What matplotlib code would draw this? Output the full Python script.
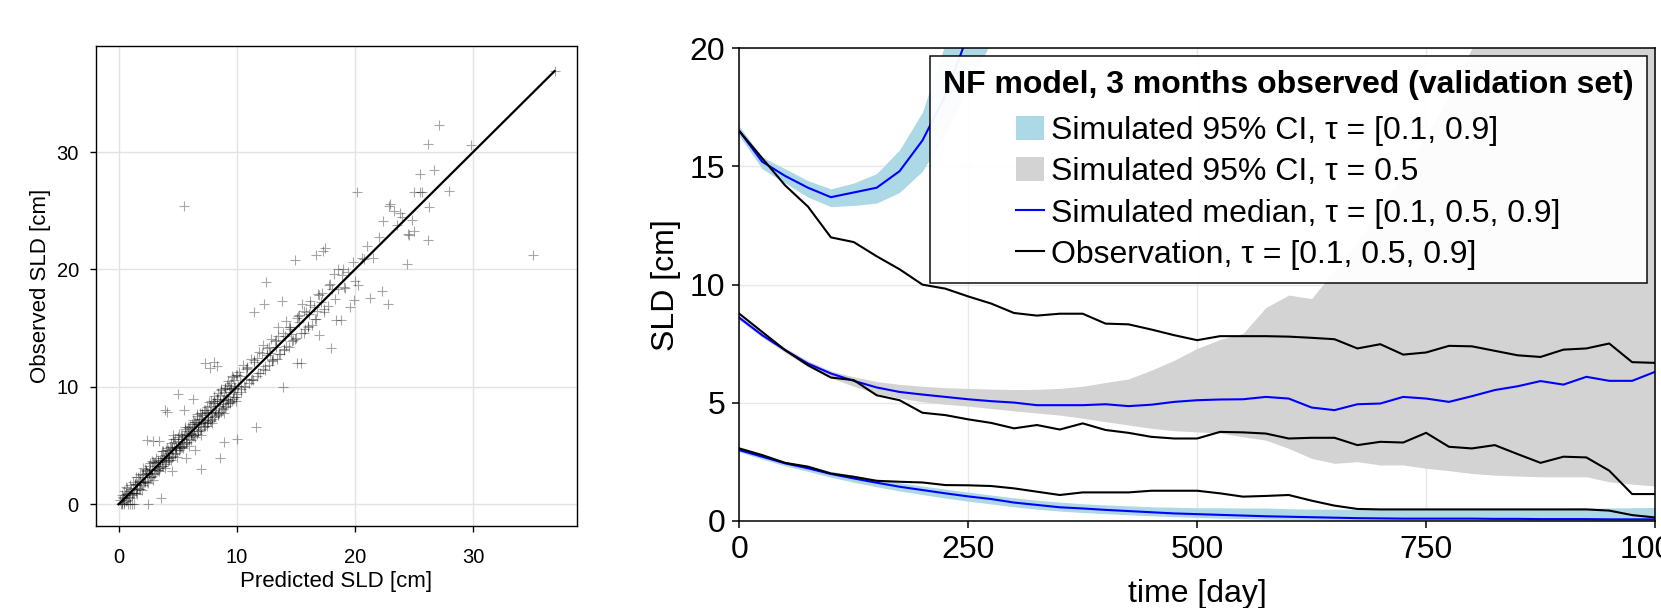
import matplotlib.pyplot as plt
from matplotlib.patches import Patch
from matplotlib.lines import Line2D

plt.rcParams['font.family'] = ['Liberation Sans', 'DejaVu Sans']

# ---- left panel: predicted vs observed SLD ----
core_pred = [0.1, 0.2, 0.3, 0.3, 0.4, 0.5, 0.5, 0.6, 0.7, 0.8, 0.8, 0.9, 1.0, 1.0, 1.1, 1.2, 1.3, 1.3, 1.4, 1.5,
             1.5, 1.6, 1.7, 1.8, 1.8, 1.9, 2.0, 2.1, 2.1, 2.2, 2.3, 2.4, 2.4, 2.5, 2.6, 2.7, 2.7, 2.8, 2.9, 3.0,
             3.0, 3.1, 3.2, 3.3, 3.3, 3.4, 3.5, 3.6, 3.6, 3.7, 3.8, 3.9, 3.9, 4.0, 4.1, 4.2, 4.2, 4.3, 4.4, 4.5,
             4.5, 4.6, 4.7, 4.8, 4.8, 4.9, 5.0, 5.1, 5.1, 5.2, 5.3, 5.4, 5.4, 5.5, 5.6, 5.7, 5.7, 5.8, 5.9, 6.0,
             6.0, 6.1, 6.2, 6.3, 6.3, 6.4, 6.5, 6.6, 6.6, 6.7, 6.8, 6.9, 6.9, 7.0, 7.1, 7.2, 7.2, 7.3, 7.4, 7.5,
             7.5, 7.6, 7.7, 7.8, 7.8, 7.9, 8.0, 8.1, 8.1, 8.2, 8.3, 8.4, 8.4, 8.5, 8.6, 8.7, 8.7, 8.8, 8.9, 9.0,
             9.0, 9.1, 9.2, 9.3, 9.3, 9.4, 9.5, 9.6, 9.6, 9.7, 9.8, 9.9, 9.9, 10.0,
             0.6, 1.1, 1.6, 2.2, 2.8, 3.4, 4.0, 4.6, 5.2, 5.8, 6.4, 7.0, 7.6, 8.2, 8.8, 9.4, 4.3, 5.0, 6.1, 7.3,
             8.5, 9.7, 2.6, 3.7, 4.9, 6.7, 7.9, 9.1,
             4.1, 3.9, 7.3, 8.1, 7.7, 8.3, 5.7, 7.0, 8.6, 10.0, 6.5, 4.5, 5.5, 6.3, 8.9, 2.4, 2.9,
             0.25, 0.35, 0.45, 0.55, 0.65, 0.75, 0.85, 0.95, 1.05, 1.15,
             1.25, 1.35, 1.45, 1.55, 1.65, 1.75, 1.85, 1.95, 2.05, 2.15,
             2.25, 2.35, 2.45, 2.55, 2.65, 2.75, 2.85, 2.95, 3.05, 3.15,
             3.25, 3.35, 3.45, 3.55, 3.65, 3.75, 3.85, 3.95, 4.05, 4.15,
             4.25, 4.35, 4.45, 4.55, 4.65, 4.75, 4.85, 4.95, 5.05, 5.15,
             5.25, 5.35, 5.45, 5.55, 5.65, 5.75, 5.85, 5.95, 6.05, 6.15,
             6.25, 6.35, 6.45, 6.55, 6.65, 6.75, 6.85, 6.95, 7.05, 7.15,
             7.25, 7.35, 7.45, 7.55, 7.65, 7.75, 7.85, 7.95, 8.05, 8.15,
             8.25, 8.35, 8.45, 8.55, 8.65, 8.75, 8.85, 8.95, 9.05, 9.15,
             9.25, 9.35, 9.45, 9.55, 9.65, 9.75, 9.85, 9.95, 10.05, 10.15]
core_obs = [0.4, 0.0, 0.8, 0.1, 0.5, 1.1, 0.0, 0.3, 1.4, 0.0, 0.9, 0.6, 1.6, 0.0, 0.8, 1.9, 1.0, 0.0, 1.7, 1.2,
            2.3, 1.4, 2.0, 1.3, 2.6, 1.8, 2.5, 1.6, 3.1, 2.0, 2.9, 1.9, 2.7, 0.0, 3.3, 2.3, 3.0, 2.4, 3.6, 2.6,
            3.5, 2.7, 3.9, 2.9, 3.6, 5.4, 3.2, 0.5, 4.1, 3.3, 4.5, 3.4, 4.2, 3.6, 4.8, 3.7, 4.6, 3.8, 5.2, 4.0,
            4.9, 4.1, 5.3, 4.4, 5.6, 4.6, 5.4, 4.6, 6.0, 4.8, 5.9, 4.9, 5.6, 5.1, 6.4, 5.2, 6.0, 5.3, 6.6, 5.6,
            6.5, 5.5, 6.8, 5.8, 7.2, 5.9, 7.0, 6.0, 7.5, 6.2, 7.3, 6.3, 7.8, 6.4, 7.6, 6.6, 8.0, 6.7, 7.9, 6.9,
            8.3, 7.0, 8.4, 7.1, 8.8, 7.3, 8.6, 7.4, 9.2, 7.5, 9.0, 7.7, 9.5, 7.8, 9.3, 7.9, 9.7, 8.1, 9.6, 8.3,
            9.9, 8.4, 10.2, 8.6, 10.5, 8.7, 10.3, 8.8, 10.9, 9.0, 10.6, 9.1, 11.0, 9.4,
            1.5, 0.0, 0.9, 3.0, 3.7, 3.1, 3.9, 5.9, 5.0, 6.2, 6.6, 7.3, 7.4, 8.6, 8.5, 9.8, 4.4, 9.4, 6.1, 7.2,
            8.4, 9.6, 2.6, 3.8, 4.8, 6.8, 7.8, 9.2,
            7.9, 8.0, 12.0, 12.1, 11.6, 11.8, 3.9, 3.0, 3.9, 5.6, 4.6, 2.8, 8.0, 9.0, 5.3, 5.5, 5.4,
            0.0, 0.6, 0.2, 0.8, 0.9, 0.4, 1.0, 0.5, 1.3, 1.0,
            1.0, 1.7, 1.0, 1.7, 2.3, 1.3, 1.9, 1.2, 2.6, 1.9,
            1.9, 2.8, 1.8, 2.7, 3.5, 2.3, 2.9, 2.1, 3.6, 3.0,
            2.9, 3.8, 2.8, 3.7, 4.5, 3.3, 3.9, 3.1, 4.6, 4.0,
            3.9, 4.9, 3.8, 4.7, 5.6, 4.3, 4.9, 4.0, 5.7, 5.0,
            4.9, 5.9, 4.8, 5.8, 6.6, 5.3, 5.9, 5.0, 6.7, 6.0,
            5.9, 7.0, 5.7, 6.8, 7.7, 6.2, 6.9, 5.9, 7.8, 7.0,
            6.9, 8.0, 6.7, 7.8, 8.7, 7.2, 7.9, 6.9, 8.8, 8.0,
            7.9, 9.0, 7.6, 8.8, 9.8, 8.2, 8.9, 7.8, 9.9, 9.0,
            8.9, 10.1, 8.6, 9.8, 10.8, 9.1, 9.9, 8.8, 11.0, 10.1]

mid_pred = [10.2, 10.4, 10.5, 10.7, 10.9, 11.0, 11.2, 11.4, 11.5, 11.7, 11.9, 12.0, 12.2, 12.4, 12.5, 12.7,
            12.9, 13.0, 13.2, 13.4, 13.5, 13.7, 13.9, 14.0, 14.2, 14.4, 14.5, 14.7, 14.9, 15.0, 15.2, 15.4,
            15.5, 15.7, 15.9, 16.0, 16.2, 16.4, 16.5, 16.7, 16.9, 17.0, 17.2, 17.4, 17.5, 17.7, 17.9, 18.0,
            18.2, 18.4, 18.6, 18.8, 19.0, 19.2, 19.4, 19.6, 19.8, 20.0,
            11.5, 12.3, 13.8, 16.7, 17.3, 18.1, 15.1, 11.6, 12.8, 14.1, 15.3, 16.1, 17.1, 13.3, 14.6, 10.8,
            9.8, 12.6, 19.1, 19.9, 18.6, 16.8, 20.3, 20.6,
            10.3, 10.6, 10.9, 11.2, 11.5, 11.8, 12.1, 12.4, 12.7, 13.0, 13.3, 13.6, 13.9, 14.2, 14.5, 14.8,
            15.1, 15.4, 15.7, 16.0, 10.4, 10.8, 11.3, 11.7, 12.2, 12.6, 13.1, 13.5, 14.0, 14.4, 14.9, 15.3,
            15.8, 16.2, 16.6, 17.0, 17.4, 17.8, 18.3, 18.9]
mid_obs = [11.3, 9.6, 11.9, 10.0, 11.6, 10.3, 12.4, 10.6, 12.3, 10.9, 13.0, 11.2, 13.6, 11.4, 18.9, 11.9,
           14.1, 12.2, 13.9, 12.4, 15.1, 12.8, 10.0, 13.1, 15.6, 13.4, 14.9, 13.9, 20.8, 14.2, 16.0, 12.0,
           17.1, 14.6, 16.4, 15.1, 17.3, 15.3, 16.8, 15.8, 17.9, 14.4, 18.0, 16.4, 21.8, 16.9, 18.8, 13.3,
           19.6, 15.7, 18.3, 15.7, 20.0, 18.4, 19.8, 16.8, 20.6, 19.0,
           16.4, 17.1, 17.3, 21.2, 21.6, 18.3, 12.0, 6.6, 12.9, 14.3, 15.5, 16.2, 17.2, 13.4, 14.5, 10.7,
           9.9, 12.7, 18.5, 17.4, 20.0, 16.5, 18.7, 21.0,
           10.9, 10.1, 11.7, 10.6, 12.1, 11.2, 12.9, 11.8, 13.4, 12.3, 14.0, 12.8, 14.6, 13.5, 15.1, 14.0,
           15.9, 14.6, 16.5, 15.2, 9.8, 11.5, 10.7, 12.5, 11.5, 13.3, 12.4, 14.3, 13.2, 15.1, 14.1, 16.1,
           14.9, 17.0, 15.8, 17.8, 16.6, 18.7, 17.5, 19.5]

tail_pred = [20.2, 20.8, 21.3, 21.5, 22.3, 22.0, 22.8, 22.4, 23.0, 23.3, 23.6, 24.0, 24.4, 24.5, 24.8, 25.0,
             25.5, 25.5, 25.7, 26.2, 26.2, 26.7, 27.1, 28.0, 29.8, 35.1, 5.5, 36.9, 25.0, 24.6, 21.0, 22.9,
             26.3, 23.8]
tail_obs = [26.6, 20.9, 17.6, 21.0, 18.2, 22.8, 17.1, 24.1, 25.6, 25.0, 23.8, 24.5, 20.5, 23.0, 24.2, 26.6,
            28.1, 26.6, 26.6, 30.7, 22.5, 28.5, 32.3, 26.7, 30.6, 21.2, 25.4, 36.9, 23.3, 22.9, 22.0, 25.4,
            25.3, 24.8]

pred_sld = core_pred + mid_pred + tail_pred
obs_sld = core_obs + mid_obs + tail_obs
identity = [0.0, 36.9]

# ---- right panel: SLD over time, three quantile groups ----
days = list(range(0, 1001, 25))
days_hi = days[:12]

# tau = 0.9 (simulation leaves the plot after ~250 days)
med_hi = [16.5, 15.2, 14.6, 14.1, 13.7, 13.9, 14.1, 14.8, 16.1, 18.0, 20.6, 23.5]
ci_hi_lo = [16.3, 14.9, 14.3, 13.7, 13.3, 13.35, 13.45, 13.9, 14.8, 16.4, 18.3, 20.3]
ci_hi_up = [16.7, 15.4, 14.9, 14.4, 14.05, 14.3, 14.7, 15.7, 17.3, 20.2, 23.5, 27.0]
obs_hi = [16.5, 15.35, 14.2, 13.3, 12.0, 11.8, 11.2, 10.65, 10.0, 9.83, 9.5,
          9.2, 8.8, 8.69, 8.77, 8.77, 8.35, 8.32, 8.1, 7.86, 7.65,
          7.82, 7.82, 7.82, 7.8, 7.75, 7.69, 7.3, 7.48, 7.04, 7.13,
          7.41, 7.39, 7.2, 7.01, 6.94, 7.25, 7.3, 7.51, 6.72, 6.69]

# tau = 0.5
med_mid = [8.6, 7.86, 7.23, 6.66, 6.24, 5.93, 5.65, 5.46, 5.35, 5.25, 5.15,
           5.07, 5.01, 4.9, 4.9, 4.9, 4.94, 4.86, 4.92, 5.04, 5.11,
           5.14, 5.15, 5.25, 5.18, 4.8, 4.69, 4.94, 4.97, 5.25, 5.18,
           5.04, 5.28, 5.54, 5.7, 5.92, 5.77, 6.1, 5.93, 5.93, 6.31]
ci_mid_lo = [8.5, 7.78, 7.13, 6.52, 6.05, 5.7, 5.39, 5.2, 5.04, 4.94, 4.86,
             4.76, 4.66, 4.57, 4.48, 4.35, 4.2, 4.06, 3.92, 3.82, 3.77,
             3.72, 3.56, 3.42, 3.07, 2.65, 2.44, 2.51, 2.37, 2.37, 2.23,
             2.13, 2.01, 1.94, 1.9, 1.87, 1.87, 1.87, 1.66, 1.56, 1.48]
ci_mid_up = [8.7, 7.95, 7.33, 6.78, 6.35, 6.1, 5.9, 5.78, 5.7, 5.64, 5.61,
             5.58, 5.56, 5.57, 5.61, 5.7, 5.86, 6.01, 6.38, 6.8, 7.3,
             7.68, 7.93, 9.03, 9.56, 9.41, 10.6, 11.8, 13.2, 14.7, 16.3,
             18.0, 20.0, 21.5, 22.5, 23.0, 23.5, 24.0, 24.5, 25.0, 25.5]
obs_mid = [8.77, 8.0, 7.23, 6.59, 6.07, 5.96, 5.32, 5.11, 4.58, 4.48, 4.3,
           4.15, 3.92, 4.06, 3.87, 4.13, 3.85, 3.73, 3.56, 3.49, 3.49,
           3.77, 3.75, 3.7, 3.49, 3.52, 3.52, 3.21, 3.35, 3.32, 3.73,
           3.14, 3.07, 3.21, 2.83, 2.46, 2.72, 2.69, 2.13, 1.14, 1.14]

# tau = 0.1
med_lo = [3.0, 2.72, 2.44, 2.23, 1.99, 1.8, 1.62, 1.45, 1.31, 1.17, 1.04,
          0.93, 0.78, 0.68, 0.58, 0.53, 0.47, 0.42, 0.37, 0.32, 0.29,
          0.26, 0.23, 0.2, 0.18, 0.16, 0.14, 0.12, 0.11, 0.1, 0.1,
          0.1, 0.1, 0.09, 0.09, 0.08, 0.08, 0.08, 0.07, 0.07, 0.07]
ci_lo_lo = [2.92, 2.62, 2.33, 2.1, 1.85, 1.64, 1.45, 1.27, 1.12, 0.97, 0.84,
            0.72, 0.6, 0.5, 0.42, 0.36, 0.31, 0.26, 0.22, 0.18, 0.15,
            0.12, 0.1, 0.08, 0.07, 0.06, 0.05, 0.05, 0.04, 0.04, 0.04,
            0.03, 0.03, 0.03, 0.03, 0.03, 0.03, 0.03, 0.02, 0.02, 0.02]
ci_lo_up = [3.08, 2.8, 2.52, 2.32, 2.1, 1.93, 1.77, 1.62, 1.48, 1.35, 1.22,
            1.1, 0.98, 0.88, 0.8, 0.73, 0.68, 0.64, 0.6, 0.58, 0.56,
            0.56, 0.55, 0.55, 0.52, 0.5, 0.5, 0.49, 0.49, 0.49, 0.49,
            0.5, 0.5, 0.51, 0.52, 0.52, 0.53, 0.54, 0.55, 0.56, 0.57]
obs_lo = [3.07, 2.79, 2.46, 2.3, 2.01, 1.87, 1.7, 1.66, 1.63, 1.52, 1.51,
          1.48, 1.38, 1.24, 1.1, 1.21, 1.21, 1.21, 1.28, 1.28, 1.28,
          1.17, 1.03, 1.06, 1.1, 0.86, 0.65, 0.51, 0.49, 0.49, 0.49,
          0.49, 0.49, 0.49, 0.49, 0.49, 0.49, 0.49, 0.44, 0.25, 0.15]

fig = plt.figure(figsize=(16.61, 6.08), dpi=100)

# left: scatter
ax1 = fig.add_axes([0.0575, 0.1349, 0.2899, 0.7887])
ax1.scatter(pred_sld, obs_sld, marker='+', s=42, linewidths=0.8, color='black', alpha=0.35, zorder=2)
ax1.plot(identity, identity, color='black', lw=1.6, zorder=3)
ax1.set_xlim(-1.95, 38.8)
ax1.set_ylim(-1.85, 39.0)
ax1.set_xticks([0, 10, 20, 30])
ax1.set_yticks([0, 10, 20, 30])
ax1.grid(True, color='#e3e3e3', lw=1)
ax1.set_axisbelow(True)
ax1.tick_params(direction='out', length=4, width=1, labelsize=14.5)
ax1.tick_params(axis='x', pad=12)
ax1.tick_params(axis='y', pad=8)
for sp in ax1.spines.values():
    sp.set_linewidth(1.0)
ax1.set_xlabel('Predicted SLD [cm]', fontsize=16, labelpad=3)
ax1.set_ylabel('Observed SLD [cm]', fontsize=16, labelpad=4)

# right: time courses
ax2 = fig.add_axes([0.4451, 0.1431, 0.5513, 0.7775])
ax2.fill_between(days_hi, ci_hi_lo, ci_hi_up, color='lightblue', lw=0, zorder=1)
ax2.fill_between(days, ci_lo_lo, ci_lo_up, color='lightblue', lw=0, zorder=1)
ax2.fill_between(days, ci_mid_lo, ci_mid_up, color='lightgray', lw=0, zorder=1)
ax2.plot(days_hi, med_hi, color='blue', lw=1.5, zorder=2)
ax2.plot(days, med_mid, color='blue', lw=1.5, zorder=2)
ax2.plot(days, med_lo, color='blue', lw=1.5, zorder=2)
ax2.plot(days, obs_hi, color='black', lw=1.5, zorder=3)
ax2.plot(days, obs_mid, color='black', lw=1.5, zorder=3)
ax2.plot(days, obs_lo, color='black', lw=1.5, zorder=3)
ax2.set_xlim(0, 1000)
ax2.set_ylim(0, 20)
ax2.set_xticks([0, 250, 500, 750, 1000])
ax2.set_yticks([0, 5, 10, 15, 20])
ax2.grid(True, color='#e8e8e8', lw=1)
ax2.set_axisbelow(True)
ax2.tick_params(direction='out', length=5, width=1.1, labelsize=23, pad=5)
for sp in ax2.spines.values():
    sp.set_linewidth(1.1)
ax2.set_xlabel('time [day]', fontsize=23, labelpad=10.5)
ax2.set_ylabel('SLD [cm]', fontsize=23, labelpad=6)

handles = [Patch(facecolor='lightblue', edgecolor='none'),
           Patch(facecolor='lightgray', edgecolor='none'),
           Line2D([], [], color='blue', lw=1.5),
           Line2D([], [], color='black', lw=1.5)]
labels = ['Simulated 95% CI, τ = [0.1, 0.9]',
          'Simulated 95% CI, τ = 0.5',
          'Simulated median, τ = [0.1, 0.5, 0.9]',
          'Observation, τ = [0.1, 0.5, 0.9]']
leg = ax2.legend(handles, labels, loc='upper right', bbox_to_anchor=(1, 1), borderaxespad=0.25,
                 fontsize=23, title='NF model, 3 months observed (validation set)',
                 title_fontproperties={'weight': 'bold', 'size': 23},
                 handlelength=0.85, handleheight=0.78, handletextpad=0.23,
                 labelspacing=0.35, borderpad=0.42, fancybox=False, framealpha=0.95,
                 edgecolor='black')
leg.get_frame().set_linewidth(1.1)
leg._legend_box.sep = 11.7  # extra room under the bold title
leg.set_zorder(5)

fig.savefig('out.png', dpi=100)
